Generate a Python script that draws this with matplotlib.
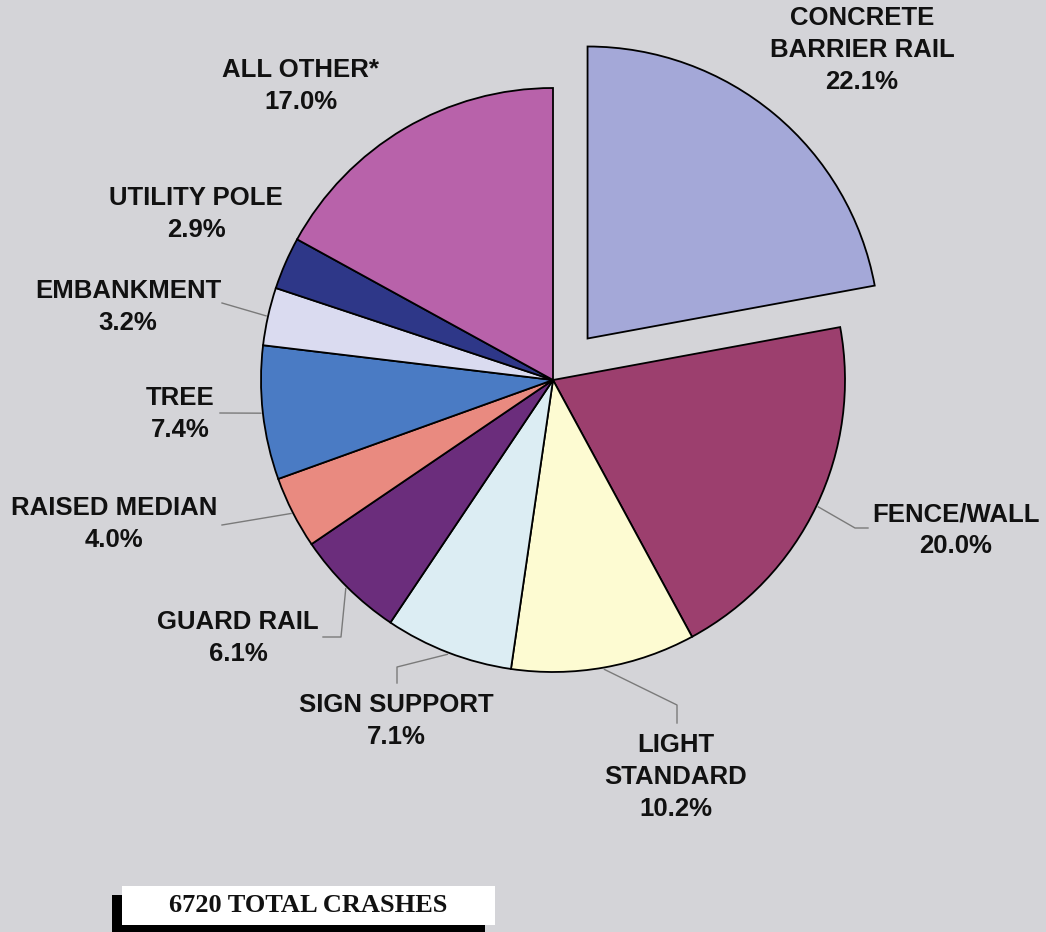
import numpy as np
import matplotlib.pyplot as plt
from matplotlib.patches import Rectangle

# crash shares by object struck (percent of all fixed-object crashes)
categories = ['CONCRETE\nBARRIER RAIL', 'FENCE/WALL', 'LIGHT\nSTANDARD', 'SIGN SUPPORT',
              'GUARD RAIL', 'RAISED MEDIAN', 'TREE', 'EMBANKMENT', 'UTILITY POLE', 'ALL OTHER*']
shares = [22.1, 20.0, 10.2, 7.1, 6.1, 4.0, 7.4, 3.2, 2.9, 17.0]
total_crashes = 6720

colors = ['#a4a8d8', '#9c3f6e', '#fdfbd2', '#dcedf3', '#6b2d7c',
          '#e98a80', '#4a7bc4', '#dadbf0', '#2e3788', '#b862aa']
bg = '#d4d4d8'

W, H = 1046, 932
fig = plt.figure(figsize=(W / 100, H / 100), dpi=100)
fig.patch.set_facecolor(bg)
ax = fig.add_axes([0, 0, 1, 1])
ax.set_facecolor(bg)

cx, cy, r = 553, H - 380, 292
explode = [54, 0, 0, 0, 0, 0, 0, 0, 0, 0]
wedges, _ = ax.pie(shares, explode=explode, colors=colors, startangle=90,
                   counterclock=False, center=(cx, cy), radius=r,
                   wedgeprops=dict(edgecolor='black', linewidth=1.3))
ax.set_xlim(0, W)
ax.set_ylim(0, H)
ax.set_aspect('equal')
ax.axis('off')

# label centres and leader-line bends, in pixels from the top-left
label_pos = [(862, 50), (956, 530), (676, 777), (396, 721), (238, 638),
             (114, 524), (180, 414), (128, 307), (196, 214), (301, 86)]
leaders = [None, [(855, 528), (868, 528)], [(677, 705), (677, 723)],
           [(397, 667), (397, 683)], [(341, 637), (323, 637)], [(222, 525)],
           [(220, 413)], [(222, 303)], None, None]

font = dict(family='Liberation Sans', weight='bold', size=18.5)
cum = np.cumsum([0] + shares)
for i, (name, val) in enumerate(zip(categories, shares)):
    mid = np.deg2rad(90 - 3.6 * (cum[i] + val / 2))
    if leaders[i]:
        x0 = cx + (r + 2) * np.cos(mid)
        y0 = cy + (r + 2) * np.sin(mid)
        xs = [x0] + [p[0] for p in leaders[i]]
        ys = [y0] + [H - p[1] for p in leaders[i]]
        ax.plot(xs, ys, color='#7a7a7a', lw=1)
    lx, ly = label_pos[i]
    ax.text(lx, H - ly, f'{name}\n{val:.1f}%', ha='center', va='center',
            multialignment='center', linespacing=1.42, color='#111111', **font)

# total count box with drop shadow
ax.add_patch(Rectangle((112, H - 934), 373, 39, facecolor='black', edgecolor='none'))
ax.add_patch(Rectangle((122, H - 925), 373, 39, facecolor='white', edgecolor='none'))
ax.text(308, H - 905, f'{total_crashes} TOTAL CRASHES', ha='center', va='center',
        family='Liberation Serif', weight='bold', size=19, color='#111111')

fig.savefig('out.png', dpi=100, facecolor=bg)
